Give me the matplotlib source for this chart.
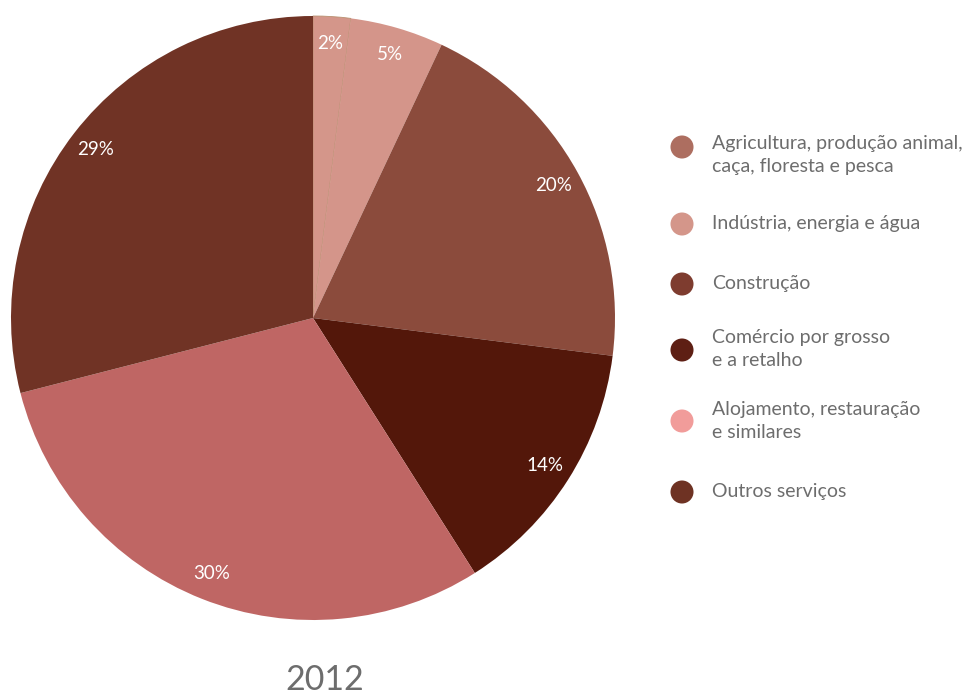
import matplotlib.pyplot as plt

plt.rcParams["font.family"] = ["Lato", "DejaVu Sans"]

# sector shares for 2012 (%)
sectors = [
    "Agricultura, produção animal,\ncaça, floresta e pesca",
    "Indústria, energia e água",
    "Construção",
    "Comércio por grosso\ne a retalho",
    "Alojamento, restauração\ne similares",
    "Outros serviços",
]
shares = [2, 5, 20, 14, 30, 29]
slice_colors = ["#d4968a", "#d4958a", "#8b4b3c", "#53170a", "#bf6664", "#703325"]
legend_colors = ["#ad6e60", "#d4968a", "#7e3c2f", "#5e1f14", "#f19c9a", "#6e3223"]
year = "2012"

W, H = 965, 696
fig = plt.figure(figsize=(W / 100, H / 100), dpi=100)

# pie centred at (313, 318) px with radius ~302 px
R = 302
cx, cy = 313, 318
ax = fig.add_axes([(cx - R) / W, (H - cy - R) / H, 2 * R / W, 2 * R / H])
wedges, _, autotexts = ax.pie(
    shares,
    colors=slice_colors,
    startangle=90,
    counterclock=False,
    autopct="%d%%",
    pctdistance=0.91,
    wedgeprops=dict(linewidth=0),
    textprops=dict(color="white", fontsize=13.5),
)
wedges[0].set_edgecolor("#b99070")
wedges[0].set_linewidth(0.6)
ax.set_xlim(-1, 1)
ax.set_ylim(-1, 1)
ax.set_aspect("equal")

# overlay in pixel units for the legend and the year caption
ov = fig.add_axes([0, 0, 1, 1])
ov.set_xlim(0, W)
ov.set_ylim(H, 0)
ov.axis("off")

marker_y = [147, 224, 284, 350, 421, 492]
text_y = [155, 223, 283, 349, 421, 492]
for name, col, my, ty in zip(sectors, legend_colors, marker_y, text_y):
    ov.scatter([682], [my], s=275, color=col, edgecolor="none")
    ov.text(712, ty, name, color="#6d6d6d", fontsize=14,
            va="center", ha="left", linespacing=1.4)

ov.text(cx + 12, 680, year, color="#6d6d6d", fontsize=24.5,
        ha="center", va="center")

fig.savefig("out.png", dpi=100)
